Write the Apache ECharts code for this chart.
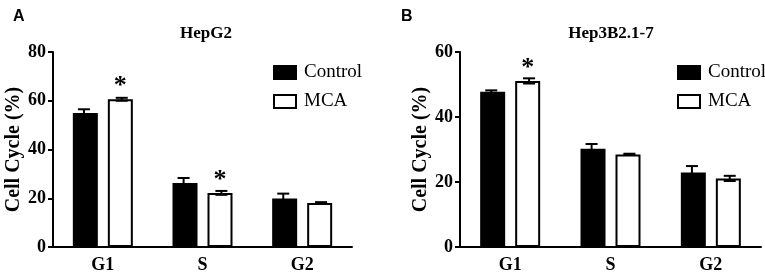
<!DOCTYPE html>
<html>
<head>
<meta charset="utf-8">
<script src="https://cdn.jsdelivr.net/npm/echarts@6/dist/echarts.min.js"></script>
<style>
    html, body { margin: 0; padding: 0; background: #fff; }
    #chart { width: 765px; height: 275px; }
</style>
</head>
<body>
<div id="chart"></div>
<script>
// --- data ---
const categories = ['G1', 'S', 'G2'];

const hepg2Control = [55.0, 26.3, 19.9];
const hepg2ControlErr = [1.5, 2.0, 2.0];
const hepg2Mca = [60.6, 22.2, 18.1];
const hepg2McaErr = [0.6, 0.8, 0.3];
const hepg2Sig = [true, true, false];

const hep3bControl = [47.8, 30.2, 22.9];
const hep3bControlErr = [0.4, 1.5, 2.0];
const hep3bMca = [51.1, 28.5, 21.1];
const hep3bMcaErr = [0.8, 0.2, 0.8];
const hep3bSig = [true, false, false];

const serif = '"Liberation Serif", "DejaVu Serif", serif';
const BAR_W = 25;      // inner bar width, border adds 2
const BAR_GAP = 0.4;   // between control and MCA

// offset of each bar centre from the category centre
const outerW = BAR_W + 2;
const half = (outerW * 2 + outerW * BAR_GAP) / 2;
const offControl = -half + outerW / 2;
const offMca = half - outerW / 2;

function errRender(offset) {
    return function (params, api) {
        let idx = api.value(0);
        let v = api.value(1);
        let e = api.value(2);
        let top = api.coord([idx, v + e]);
        let bot = api.coord([idx, v - e]);
        let cx = top[0] + offset;
        let hw = 6;
        let st = { stroke: '#000', lineWidth: 2 };
        return {
            type: 'group',
            children: [
                { type: 'line', shape: { x1: cx, y1: top[1], x2: cx, y2: bot[1] }, style: st },
                { type: 'line', shape: { x1: cx - hw, y1: top[1], x2: cx + hw, y2: top[1] }, style: st },
                { type: 'line', shape: { x1: cx - hw, y1: bot[1], x2: cx + hw, y2: bot[1] }, style: st }
            ]
        };
    };
}

function errData(vals, errs) {
    return vals.map((v, i) => [i, v, errs[i]]);
}

function mcaData(vals, sig) {
    return vals.map((v, i) => ({
        value: v,
        label: { show: sig[i] }
    }));
}

const starLabel = {
    show: false,
    position: 'top',
    distance: 0,
    formatter: '*',
    color: '#000',
    fontFamily: serif,
    fontWeight: 'bold',
    fontSize: 26
};

function makeX(gridIndex) {
    return {
        type: 'category',
        gridIndex: gridIndex,
        data: categories,
        axisLine: { lineStyle: { color: '#000', width: 2 } },
        axisTick: { alignWithLabel: true, length: 5, lineStyle: { color: '#000', width: 2 } },
        axisLabel: { color: '#000', fontFamily: serif, fontWeight: 'bold', fontSize: 18, margin: 9 }
    };
}

function makeY(gridIndex, max) {
    return {
        type: 'value',
        gridIndex: gridIndex,
        min: 0,
        max: max,
        interval: 20,
        name: 'Cell Cycle (%)',
        nameLocation: 'middle',
        nameGap: 27,
        nameTextStyle: { color: '#000', fontFamily: serif, fontWeight: 'bold', fontSize: 20 },
        axisLine: { show: true, lineStyle: { color: '#000', width: 2 } },
        axisTick: { show: true, length: 5, lineStyle: { color: '#000', width: 2 } },
        splitLine: { show: false },
        axisLabel: { color: '#000', fontFamily: serif, fontWeight: 'bold', fontSize: 18, margin: 7 }
    };
}

function panelSeries(idx, ctrl, ctrlErr, mca, mcaErr, sig) {
    return [
        {
            name: 'Control',
            type: 'bar',
            xAxisIndex: idx,
            yAxisIndex: idx,
            data: ctrl,
            barWidth: BAR_W,
            barGap: (BAR_GAP * 100) + '%',
            itemStyle: { color: '#000', borderColor: '#000', borderWidth: 2 },
            emphasis: { disabled: true }
        },
        {
            name: 'MCA',
            type: 'bar',
            xAxisIndex: idx,
            yAxisIndex: idx,
            data: mcaData(mca, sig),
            barWidth: BAR_W,
            barGap: (BAR_GAP * 100) + '%',
            itemStyle: { color: '#fff', borderColor: '#000', borderWidth: 2 },
            label: starLabel,
            emphasis: { disabled: true }
        },
        {
            type: 'custom',
            xAxisIndex: idx,
            yAxisIndex: idx,
            renderItem: errRender(offControl),
            data: errData(ctrl, ctrlErr),
            encode: { x: 0, y: 1 },
            z: 10
        },
        {
            type: 'custom',
            xAxisIndex: idx,
            yAxisIndex: idx,
            renderItem: errRender(offMca),
            data: errData(mca, mcaErr),
            encode: { x: 0, y: 1 },
            z: 10
        }
    ];
}

function makeLegend(left) {
    return {
        data: ['Control', 'MCA'],
        orient: 'vertical',
        left: left,
        top: 58,
        icon: 'rect',
        itemWidth: 22,
        itemHeight: 13,
        itemGap: 10,
        selectedMode: false,
        textStyle: { color: '#000', fontFamily: serif, fontSize: 19, padding: [0, 0, 0, 3] }
    };
}

let chart = echarts.init(document.getElementById('chart'), null, { renderer: 'canvas' });

let option = {
    animation: false,
    backgroundColor: '#fff',
    title: [
        { text: 'A', left: 8, top: 4, textStyle: { fontFamily: '"Liberation Sans", Arial', fontWeight: 'bold', fontSize: 16, color: '#000' } },
        { text: 'B', left: 396, top: 4, textStyle: { fontFamily: '"Liberation Sans", Arial', fontWeight: 'bold', fontSize: 16, color: '#000' } },
        { text: 'HepG2', left: 201, top: 20, textAlign: 'center', textStyle: { fontFamily: serif, fontWeight: 'bold', fontSize: 17, color: '#000' } },
        { text: 'Hep3B2.1-7', left: 606, top: 20, textAlign: 'center', textStyle: { fontFamily: serif, fontWeight: 'bold', fontSize: 17, color: '#000' } }
    ],
    legend: [makeLegend(268), makeLegend(672)],
    grid: [
        { left: 53, top: 52, width: 299, height: 195 },
        { left: 460, top: 52, width: 301, height: 195 }
    ],
    xAxis: [makeX(0), makeX(1)],
    yAxis: [makeY(0, 80), makeY(1, 60)],
    series: [].concat(
        panelSeries(0, hepg2Control, hepg2ControlErr, hepg2Mca, hepg2McaErr, hepg2Sig),
        panelSeries(1, hep3bControl, hep3bControlErr, hep3bMca, hep3bMcaErr, hep3bSig)
    )
};

chart.setOption(option);
</script>
</body>
</html>
